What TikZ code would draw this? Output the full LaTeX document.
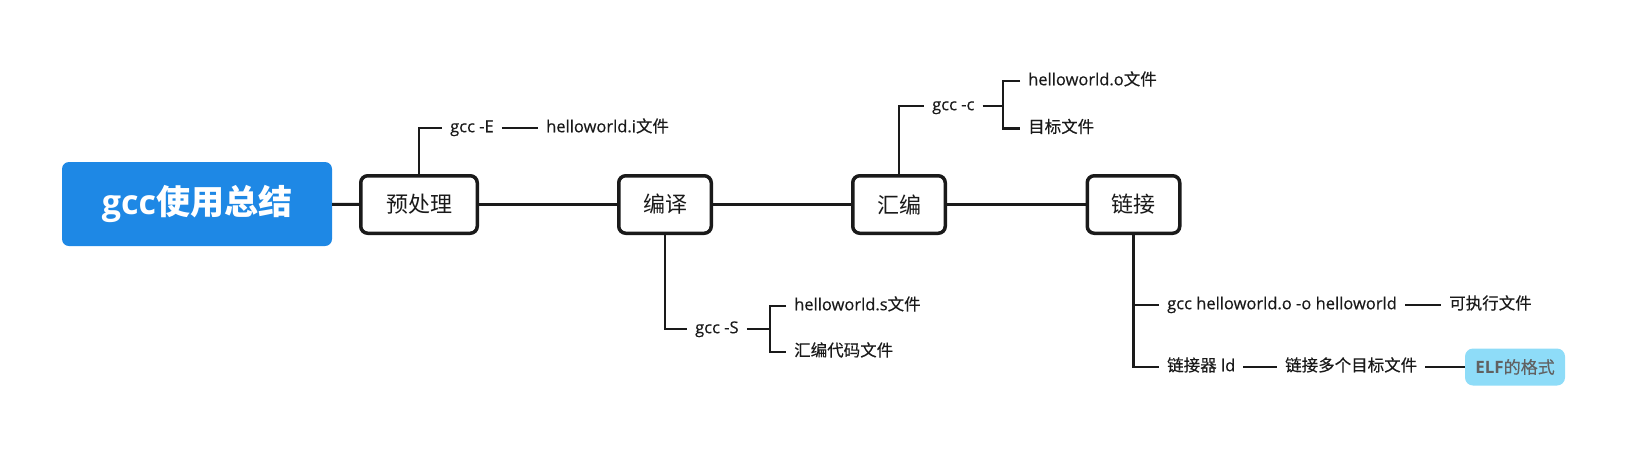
\documentclass[tikz,border=0pt]{standalone}
\usepackage{fontspec}
\setmainfont{Open Sans}
\newfontfamily\cjk{Noto Sans CJK SC}
\newfontfamily\lab{Open Sans}[FakeBold=0.4]
\newfontfamily\cjklab{Noto Sans CJK SC}[FakeBold=0.3]
\definecolor{rootblue}{HTML}{1E88E5}
\definecolor{elfblue}{HTML}{8EDCF8}
\definecolor{ink}{HTML}{1A1A1A}

\tikzset{
  root/.style={rectangle, rounded corners=7pt, fill=rootblue, text=white,
    font=\fontsize{34}{38}\selectfont\bfseries, minimum width=270pt, minimum height=84pt},
  stage/.style={rectangle, draw=ink, line width=3.5pt, rounded corners=7pt, fill=white,
    font=\cjk\fontsize{22}{24}\selectfont, minimum height=57.5pt, text=ink},
  leaf/.style={anchor=west, inner xsep=8pt, inner ysep=0pt, text height=12pt, text depth=3.5pt,
    font=\lab\fontsize{16.5}{18}\selectfont, text=ink},
  elfbox/.style={rectangle, rounded corners=8pt, fill=elfblue, text=black!62,
    font=\fontsize{17}{18}\selectfont, minimum width=100pt, minimum height=37pt},
  trunk/.style={draw=ink, line width=3pt},
  twig/.style={draw=ink, line width=2.5pt}
}

\begin{document}
\begin{tikzpicture}[x=1pt,y=-1pt]
    \useasboundingbox (0,0) rectangle (1625,448);

    % main nodes
    \node[root] (root) at (197,204) {gcc{\cjk 使用总结}};
    \node[stage, minimum width=116.5pt] (pre)  at (419,204.5)  {预处理};
    \node[stage, minimum width=92.5pt]  (comp) at (665,204.5)  {编译};
    \node[stage, minimum width=92.5pt]  (asm)  at (899,204.5)  {汇编};
    \node[stage, minimum width=92.5pt]  (link) at (1133.5,204.5) {链接};

    \draw[trunk] (root) -- (pre);
    \draw[trunk] (pre) -- (comp);
    \draw[trunk] (comp) -- (asm);
    \draw[trunk] (asm) -- (link);

    % preprocessing
    \node[leaf] (gccE)  at (442,128) {gcc -E};
    \node[leaf] (ifile) at (538,128) {helloworld.i{\cjklab 文件}};
    \draw[twig] (pre.north) |- (gccE.west);
    \draw[twig] (gccE) -- (ifile);

    % compiling
    \node[leaf] (gccS)    at (687,329) {gcc -S};
    \node[leaf] (sfile)   at (786,306) {helloworld.s{\cjklab 文件}};
    \node[leaf] (asmcode) at (786,352) {\cjklab 汇编代码文件};
    \coordinate (bS) at (770,329);
    \draw[twig] (comp.south) |- (gccS.west);
    \draw[twig] (gccS.east) -- (bS);
    \draw[twig] (sfile.west) -| (bS) |- (asmcode.west);

    % assembling
    \node[leaf] (gccC)    at (924,106)   {gcc -c};
    \node[leaf] (ofile)   at (1020,81)   {helloworld.o{\cjklab 文件}};
    \node[leaf] (objfile) at (1020,128.5) {\cjklab 目标文件};
    \coordinate (bC) at (1003,106);
    \draw[twig] (asm.north) |- (gccC.west);
    \draw[twig] (gccC.east) -- (bC);
    \draw[twig] (ofile.west) -| (bC) |- (objfile.west);

    % linking
    \node[leaf] (gccO)  at (1159,305) {gcc helloworld.o -o helloworld};
    \node[leaf] (exe)   at (1441,305) {\cjklab 可执行文件};
    \node[leaf] (ld)    at (1159,367) {{\cjklab 链接器} ld};
    \node[leaf] (multi) at (1277,367) {\cjklab 链接多个目标文件};
    \node[elfbox] (elf) at (1515,367) {\textbf{ELF}{\cjklab 的格式}};
    \draw[twig] (link.south) |- (gccO.west);
    \draw[twig] (link.south) |- (ld.west);
    \draw[twig] (gccO) -- (exe);
    \draw[twig] (ld) -- (multi);
    \draw[twig] (multi) -- (elf);
\end{tikzpicture}
\end{document}
